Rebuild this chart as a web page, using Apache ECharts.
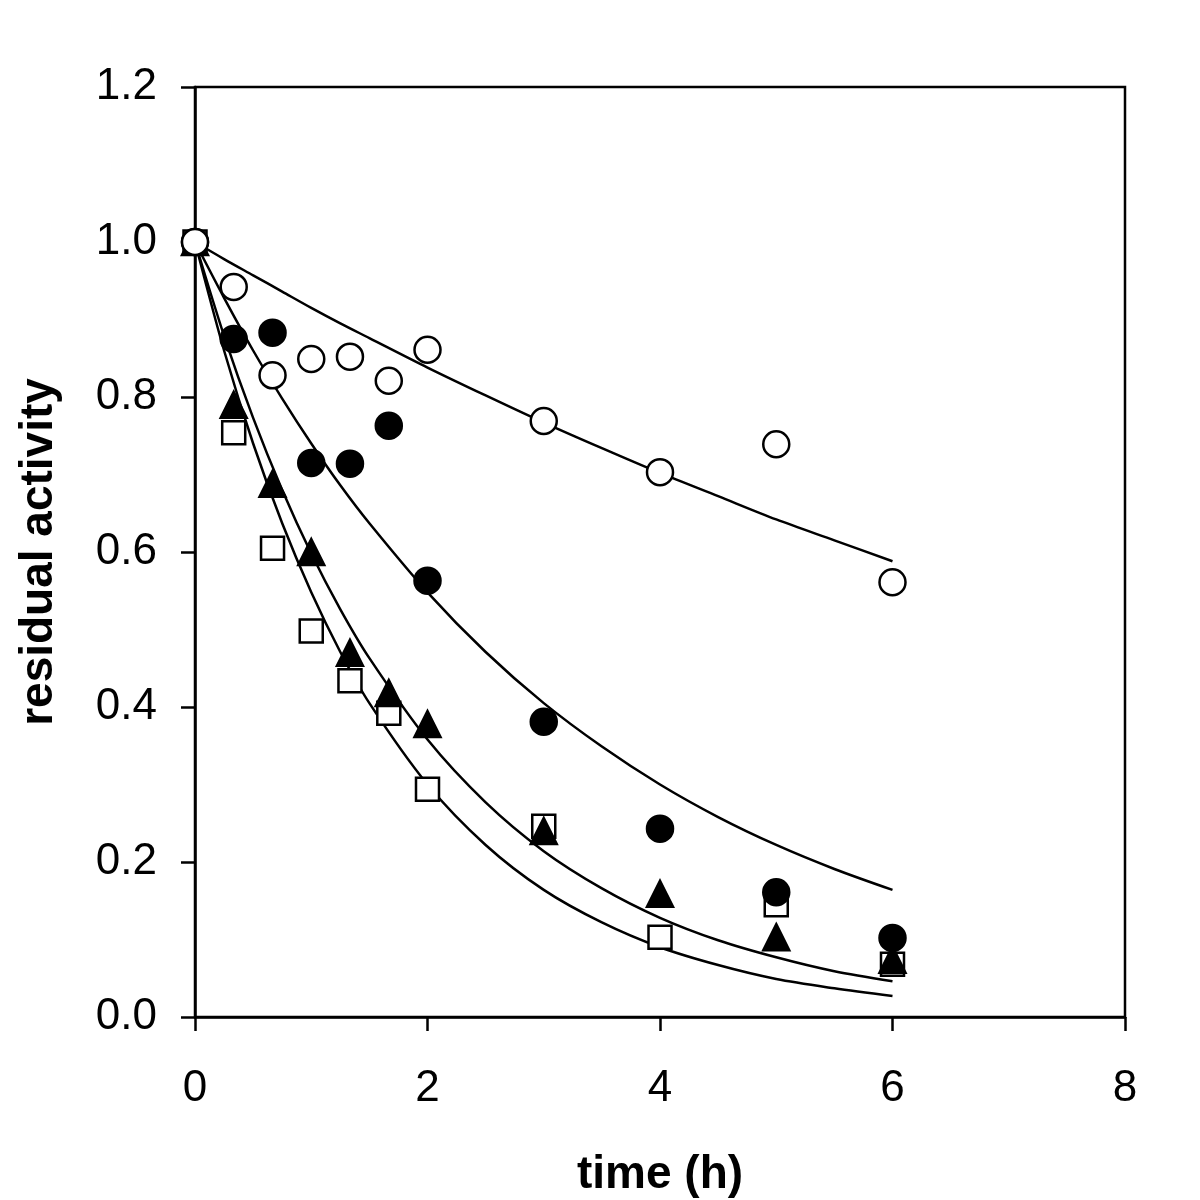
<!DOCTYPE html>
<html>
<head>
<meta charset="utf-8">
<script src="https://cdn.jsdelivr.net/npm/echarts@6/dist/echarts.min.js"></script>
<style>
html,body{margin:0;padding:0;background:#fff;}
#chart{width:1200px;height:1200px;}
</style>
</head>
<body>
<div id="chart"></div>
<script>
// Measured time points (h)
const timePoints = [0, 0.333, 0.667, 1, 1.333, 1.667, 2, 3, 4, 5, 6];
// Residual activity data
const openCircles   = [1.0, 0.942, 0.828, 0.849, 0.852, 0.821, 0.861, 0.769, 0.703, 0.739, 0.561];
const filledCircles = [1.0, 0.875, 0.883, 0.715, 0.714, 0.763, 0.563, 0.381, 0.243, 0.161, 0.102];
const triangles     = [1.0, 0.790, 0.688, 0.600, 0.470, 0.418, 0.378, 0.240, 0.159, 0.103, 0.074];
const squares       = [1.0, 0.754, 0.605, 0.498, 0.434, 0.392, 0.294, 0.246, 0.103, 0.145, 0.068];

// Fitted curves (at these times)
const curveT      = [0, 0.25, 0.5, 0.75, 1, 1.25, 1.5, 2, 2.5, 3, 3.5, 4, 4.5, 5, 5.5, 6];
const curveOpen   = [1, 0.978, 0.957, 0.936, 0.915, 0.895, 0.876, 0.838, 0.802, 0.767, 0.734, 0.702, 0.672, 0.642, 0.615, 0.588];
const curveFilled = [1, 0.928, 0.860, 0.798, 0.740, 0.686, 0.637, 0.548, 0.471, 0.405, 0.349, 0.300, 0.258, 0.222, 0.191, 0.164];
const curveTri    = [1, 0.879, 0.773, 0.680, 0.598, 0.526, 0.463, 0.358, 0.277, 0.214, 0.166, 0.128, 0.099, 0.077, 0.059, 0.046];
const curveSq     = [1, 0.860, 0.740, 0.637, 0.548, 0.471, 0.405, 0.300, 0.222, 0.164, 0.122, 0.090, 0.067, 0.049, 0.037, 0.027];

const xTicks = [0, 2, 4, 6, 8];
const yTicks = [0, 0.2, 0.4, 0.6, 0.8, 1.0, 1.2];

const pair = (xs, ys) => xs.map((x, i) => [x, ys[i]]);
const FONT = '"Liberation Sans", Arial, sans-serif';

function curve(ys) {
  return {
    type: 'line', data: pair(curveT, ys), smooth: 0.3, showSymbol: false, symbol: 'none',
    lineStyle: { color: '#000', width: 2.5 }, silent: true, z: 2
  };
}
function scatter(ys, symbol, size, fill) {
  return {
    type: 'scatter', data: pair(timePoints, ys), symbol: symbol, symbolSize: size,
    itemStyle: { color: fill, borderColor: '#000', borderWidth: 2.5, opacity: 1 }, z: 3
  };
}

const chart = echarts.init(document.getElementById('chart'), null, { renderer: 'canvas' });
chart.setOption({
  animation: false,
  backgroundColor: '#fff',
  grid: { left: 195, right: 75, top: 87, bottom: 183, containLabel: false, outerBoundsMode: 'none',
    show: true, borderColor: '#000', borderWidth: 2.5, backgroundColor: 'transparent' },
  xAxis: {
    type: 'value', min: 0, max: 8, interval: 2,
    name: 'time (h)', nameLocation: 'middle', nameGap: 135,
    nameTextStyle: { fontFamily: FONT, fontSize: 46, fontWeight: 'bold', color: '#000' },
    axisLine: { show: true, onZero: false, lineStyle: { color: '#000', width: 2.5 } },
    axisTick: { show: true, inside: false, length: 14, lineStyle: { color: '#000', width: 2.5 } },
    axisLabel: { fontFamily: FONT, fontSize: 44, color: '#000', margin: 50,
      formatter: v => xTicks.includes(v) ? String(v) : '' },
    splitLine: { show: false }
  },
  yAxis: {
    type: 'value', min: 0, max: 1.2, interval: 0.2,
    name: 'residual activity', nameLocation: 'middle', nameGap: 133, nameRotate: 90,
    nameTextStyle: { fontFamily: FONT, fontSize: 46, fontWeight: 'bold', color: '#000' },
    axisLine: { show: true, onZero: false, lineStyle: { color: '#000', width: 2.5 } },
    axisTick: { show: true, inside: false, length: 14, lineStyle: { color: '#000', width: 2.5 } },
    axisLabel: { fontFamily: FONT, fontSize: 44, color: '#000', margin: 38,
      formatter: v => yTicks.some(t => Math.abs(t - v) < 1e-9) ? v.toFixed(1) : '' },
    splitLine: { show: false }
  },
  series: [
    curve(curveOpen), curve(curveFilled), curve(curveTri), curve(curveSq),
    scatter(squares, 'rect', 23, '#fff'),
    scatter(triangles, 'triangle', 26, '#000'),
    scatter(filledCircles, 'circle', 26, '#000'),
    scatter(openCircles, 'circle', 26, '#fff')
  ]
});
</script>
</body>
</html>
